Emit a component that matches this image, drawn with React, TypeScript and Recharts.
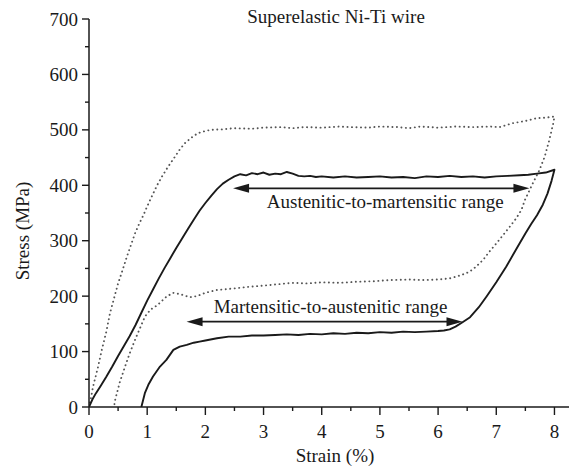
import React from 'react';
import { LineChart, Line, XAxis, YAxis, ReferenceLine } from 'recharts';

// Superelastic Ni-Ti wire — stress/strain loops
const solidLoadX = [0, 0.06, 0.12, 0.2, 0.3, 0.4, 0.5, 0.6, 0.7, 0.8, 0.9, 1.0, 1.1, 1.2, 1.3, 1.4, 1.5, 1.6, 1.7, 1.8, 1.9, 2.0, 2.1, 2.2, 2.3, 2.4, 2.5, 2.6, 2.7, 2.8, 2.9, 3.0, 3.1, 3.2, 3.3, 3.4, 3.5, 3.6, 3.7, 3.8, 3.9, 4.0, 4.2, 4.4, 4.6, 4.8, 5.0, 5.2, 5.4, 5.6, 5.8, 6.0, 6.2, 6.4, 6.6, 6.8, 7.0, 7.2, 7.4, 7.55, 7.7, 7.85, 8.0];
const solidLoadY = [0, 14, 25, 38, 55, 73, 92, 110, 128, 148, 170, 192, 212, 232, 251, 269, 287, 304, 321, 338, 354, 368, 381, 393, 403, 410, 416, 420, 418, 422, 420, 423, 419, 421, 420, 424, 421, 417, 416, 417, 415, 416, 414, 416, 414, 415, 416, 414, 415, 413, 416, 415, 417, 415, 416, 414, 416, 417, 418, 419, 421, 423, 428];
const solidUnloadX = [8.0, 7.95, 7.88, 7.8, 7.7, 7.6, 7.5, 7.35, 7.17, 7.0, 6.83, 6.7, 6.55, 6.42, 6.3, 6.2, 6.1, 6.0, 5.8, 5.6, 5.4, 5.2, 5.0, 4.8, 4.6, 4.4, 4.2, 4.0, 3.8, 3.6, 3.4, 3.2, 3.0, 2.8, 2.6, 2.4, 2.2, 2.0, 1.9, 1.8, 1.68, 1.56, 1.45, 1.33, 1.22, 1.1, 1.02, 0.96, 0.9];
const solidUnloadY = [428, 408, 385, 365, 346, 330, 313, 286, 253, 225, 199, 180, 162, 153, 145, 140, 138, 137, 136, 135, 136, 134, 135, 133, 134, 132, 133, 131, 132, 130, 131, 130, 129, 129, 127, 127, 124, 120, 118, 116, 112, 109, 103, 85, 73, 55, 40, 25, 0];

const dotLoadX = [0, 0.04, 0.07, 0.15, 0.22, 0.3, 0.36, 0.43, 0.5, 0.58, 0.65, 0.72, 0.79, 0.86, 0.93, 1.0, 1.08, 1.17, 1.25, 1.35, 1.48, 1.57, 1.65, 1.76, 1.87, 2.0, 2.1, 2.3, 2.5, 2.8, 3.0, 3.3, 3.5, 3.7, 4.0, 4.3, 4.5, 4.8, 5.0, 5.3, 5.5, 5.7, 6.0, 6.3, 6.6, 6.9, 7.06, 7.28, 7.5, 7.69, 7.85, 8.0];
const dotLoadY = [0, 20, 37, 70, 103, 137, 169, 196, 223, 248, 271, 292, 313, 330, 345, 362, 380, 400, 415, 432, 452, 466, 476, 486, 494, 498, 500, 501, 503, 502, 504, 505, 503, 505, 504, 506, 505, 504, 506, 505, 503, 506, 504, 506, 505, 506, 505, 512, 516, 521, 522, 524];
const dotUnloadX = [8.0, 7.98, 7.91, 7.83, 7.74, 7.63, 7.49, 7.43, 7.34, 7.23, 7.1, 7.0, 6.88, 6.77, 6.65, 6.54, 6.4, 6.2, 6.0, 5.74, 5.5, 5.17, 4.9, 4.6, 4.31, 4.0, 3.75, 3.5, 3.2, 3.0, 2.76, 2.5, 2.3, 2.19, 2.0, 1.85, 1.73, 1.62, 1.5, 1.44, 1.38, 1.33, 1.28, 1.22, 1.15, 1.06, 0.96, 0.88, 0.79, 0.7, 0.62, 0.53, 0.45, 0.43];
const dotUnloadY = [524, 512, 481, 451, 427, 404, 373, 355, 340, 325, 308, 295, 280, 265, 253, 244, 238, 232, 230, 229, 230, 229, 227, 226, 224, 225, 223, 224, 221, 219, 217, 214, 212, 211, 206, 200, 198, 202, 205, 206, 202, 199, 194, 188, 182, 176, 163, 143, 121, 97, 73, 45, 13, 0];

const xTicks = [0, 0.5, 1, 1.5, 2, 2.5, 3, 3.5, 4, 4.5, 5, 5.5, 6, 6.5, 7, 7.5, 8];
const yTicks = [0, 50, 100, 150, 200, 250, 300, 350, 400, 450, 500, 550, 600, 650, 700];

const arrowUpper = { label: 'Austenitic-to-martensitic range', x1: 2.476, x2: 7.57, y: 394.6 };
const arrowLower = { label: 'Martensitic-to-austenitic range', x1: 1.677, x2: 6.42, y: 153.9 };

const title = 'Superelastic Ni-Ti wire';
const xLabel = 'Strain (%)';
const yLabel = 'Stress (MPa)';

const zip = (xs: number[], ys: number[]) => xs.map((x, i) => ({ x, y: ys[i] }));
const solid = [...zip(solidLoadX, solidLoadY), ...zip(solidUnloadX, solidUnloadY)];
const dotted = [...zip(dotLoadX, dotLoadY), ...zip(dotUnloadX, dotUnloadY)];

const FONT = '"Liberation Serif", "Times New Roman", serif';
const INK = '#1a1a1a';

const XTick = (props: any) => {
  const { x, y, payload } = props;
  const v = payload.value;
  const major = Math.abs(v - Math.round(v)) < 1e-6;
  return (
    <g>
      <line x1={x} y1={y} x2={x} y2={y + (major ? 8 : 4)} stroke={INK} strokeWidth={1.4} />
      {major && (
        <text x={x} y={y + 31} textAnchor="middle" fontSize={19} fontFamily={FONT} fill={INK}>
          {v}
        </text>
      )}
    </g>
  );
};

const YTick = (props: any) => {
  const { x, y, payload } = props;
  const v = payload.value;
  const major = v % 100 === 0;
  return (
    <g>
      <line x1={x} y1={y} x2={x - (major ? 7 : 4)} y2={y} stroke={INK} strokeWidth={1.4} />
      {major && (
        <text x={x - 11} y={y + 6.5} textAnchor="end" fontSize={19} fontFamily={FONT} fill={INK}>
          {v}
        </text>
      )}
    </g>
  );
};

const makeArrow = (label: string, dx: number, dy: number) => (props: any) => {
  const { x1, y1, x2, y2 } = props;
  const h = 16;
  const w = 4.5;
  return (
    <g>
      <line x1={x1 + h - 3} y1={y1} x2={x2 - h + 3} y2={y2} stroke={INK} strokeWidth={1.8} />
      <polygon points={`${x1},${y1} ${x1 + h},${y1 - w} ${x1 + h},${y1 + w}`} fill={INK} />
      <polygon points={`${x2},${y2} ${x2 - h},${y2 - w} ${x2 - h},${y2 + w}`} fill={INK} />
      <text x={(x1 + x2) / 2 + dx} y={y1 + dy} textAnchor="middle" fontSize={19} fontFamily={FONT} fill={INK}>
        {label}
      </text>
    </g>
  );
};

export default function App() {
  return (
    <div style={{ position: 'absolute', left: 0, top: 0, width: 577, height: 466, background: '#fff' }}>
      <LineChart width={577} height={466} margin={{ top: 19, right: 8, bottom: 0, left: 0 }}>
        <XAxis
          type="number"
          dataKey="x"
          domain={[0, 8.25]}
          ticks={xTicks}
          interval={0}
          tickSize={0}
          tickMargin={0}
          tick={<XTick />}
          height={59}
          axisLine={{ stroke: INK, strokeWidth: 1.5 }}
          allowDataOverflow
          label={{
            content: (p: any) => {
              const vb = p.viewBox || { x: 89, y: 407, width: 480 };
              return (
                <text x={vb.x + 246} y={vb.y + 55} textAnchor="middle" fontSize={19} fontFamily={FONT} fill={INK}>
                  {xLabel}
                </text>
              );
            },
          }}
        />
        <YAxis
          type="number"
          dataKey="y"
          domain={[0, 700]}
          ticks={yTicks}
          interval={0}
          tickSize={0}
          tickMargin={0}
          tick={<YTick />}
          width={89}
          axisLine={{ stroke: INK, strokeWidth: 1.5 }}
          allowDataOverflow
          label={{
            content: (p: any) => {
              const vb = p.viewBox || { x: 0, y: 19, height: 388 };
              const cx = 29;
              const cy = vb.y + vb.height / 2 + 18;
              return (
                <text x={cx} y={cy} transform={`rotate(-90 ${cx} ${cy})`} textAnchor="middle" fontSize={19} fontFamily={FONT} fill={INK}>
                  {yLabel}
                </text>
              );
            },
          }}
        />
        <Line
          data={dotted}
          dataKey="y"
          type="linear"
          stroke="#555"
          strokeWidth={1.9}
          strokeDasharray="0.1 4.4"
          strokeLinecap="round"
          dot={false}
          activeDot={false}
          isAnimationActive={false}
        />
        <Line
          data={solid}
          dataKey="y"
          type="linear"
          stroke={INK}
          strokeWidth={1.9}
          strokeLinejoin="round"
          dot={false}
          activeDot={false}
          isAnimationActive={false}
        />
        <ReferenceLine
          segment={[{ x: arrowUpper.x1, y: arrowUpper.y }, { x: arrowUpper.x2, y: arrowUpper.y }]}
          shape={makeArrow(arrowUpper.label, 4, 20)}
        />
        <ReferenceLine
          segment={[{ x: arrowLower.x1, y: arrowLower.y }, { x: arrowLower.x2, y: arrowLower.y }]}
          shape={makeArrow(arrowLower.label, 6, -9)}
        />
      </LineChart>
      <svg width={577} height={40} style={{ position: 'absolute', left: 0, top: 0, pointerEvents: 'none' }}>
        <text x={336} y={23} textAnchor="middle" fontSize={19} fontFamily={FONT} fill={INK}>
          {title}
        </text>
      </svg>
    </div>
  );
}
